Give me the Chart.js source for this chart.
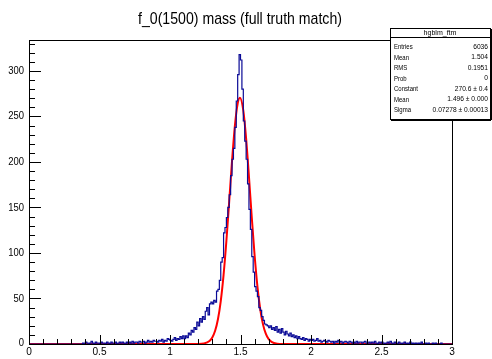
<!DOCTYPE html>
<html>
<head>
<meta charset="utf-8">
<script src="https://cdn.jsdelivr.net/npm/chart.js@4.4.0/dist/chart.umd.min.js"></script>
<style>
  html, body { margin: 0; padding: 0; background: #fff; }
</style>
</head>
<body>
<canvas id="massChart" width="492" height="359"></canvas>
<script>
// histogram hgblm_ftm: 300 bins of 0.01 from 0 to 3
const binWidth = 0.01;
const counts = [
  0, 0, 0, 0, 0, 0, 0, 0, 0, 0,
  0, 0, 0, 0, 0, 0, 0, 0, 0, 0,
  0, 0, 0, 0, 0, 0, 0, 0, 0, 0,
  0, 0, 0, 0, 0, 0, 0, 0, 1, 0,
  2, 1, 0, 1, 3, 1, 0, 2, 1, 1,
  0, 2, 1, 1, 0, 2, 1, 0, 2, 1,
  1, 2, 0, 1, 2, 1, 2, 1, 0, 2,
  1, 2, 1, 3, 1, 2, 2, 1, 3, 2,
  2, 3, 1, 2, 4, 2, 3, 2, 4, 3,
  3, 2, 4, 3, 5, 2, 4, 3, 6, 5,
  4, 3, 5, 7, 4, 6, 5, 8, 6, 9,
  6, 9, 7, 12, 10, 15, 13, 18, 16, 24,
  20, 28, 24, 30, 27, 36, 40, 32, 44, 46,
  44, 48, 46, 58, 60, 70, 90, 95, 122, 128,
  139, 150, 164, 185, 203, 215, 238, 267, 296, 318,
  312, 280, 245, 223, 203, 176, 148, 126, 96, 79,
  63, 58, 52, 40, 37, 30, 26, 22, 21, 20,
  18, 20, 16, 18, 15, 19, 13, 16, 12, 17,
  13, 10, 14, 11, 9, 12, 8, 10, 7, 9,
  6, 8, 6, 5, 7, 4, 6, 5, 3, 5,
  4, 5, 3, 4, 6, 3, 4, 2, 3, 4,
  3, 2, 4, 3, 2, 3, 1, 3, 2, 4,
  2, 3, 1, 2, 3, 2, 1, 3, 2, 1,
  2, 1, 3, 1, 2, 2, 1, 2, 3, 1,
  1, 2, 1, 2, 1, 3, 1, 0, 2, 1,
  2, 1, 0, 1, 2, 1, 3, 1, 0, 2,
  1, 0, 2, 1, 0, 1, 2, 0, 1, 0,
  2, 0, 1, 0, 1, 0, 1, 0, 2, 0,
  0, 1, 0, 1, 0, 0, 1, 0, 1, 0,
  0, 0, 1, 0, 0, 0, 0, 0, 0, 0
];

// gaus fit curve
const fitX = [0, 1.20, 1.24, 1.28, 1.30, 1.32, 1.34, 1.36, 1.38, 1.40, 1.42, 1.44, 1.46, 1.48, 1.496,
  1.52, 1.54, 1.56, 1.58, 1.60, 1.62, 1.64, 1.66, 1.68, 1.70, 1.72, 1.76, 1.80, 3];
const fitY = [0, 0.1, 0.6, 3.3, 7.2, 14.5, 27.2, 47.2, 76.0, 113.4, 156.9, 201.2, 239.5, 264.1, 270.6,
  256.3, 225.4, 183.8, 139.0, 97.5, 63.4, 38.2, 21.3, 11.1, 5.3, 2.4, 0.4, 0.05, 0];

const xMajor = [0, 0.5, 1, 1.5, 2, 2.5, 3];
const xLabels = ["0", "0.5", "1", "1.5", "2", "2.5", "3"];
const yMajor = [0, 50, 100, 150, 200, 250, 300];
const yLabels = ["0", "50", "100", "150", "200", "250", "300"];
const xMinorStep = 0.1;
const yMinorStep = 10;

const title = "f_0(1500) mass (full truth match)";
const statsTitle = "hgblm_ftm";
const statsNames = ["Entries", "Mean", "RMS", "Prob", "Constant", "Mean", "Sigma"];
const statsValues = ["6036", "1.504", "0.1951", "0", "270.6 \u00b1 0.4", "1.496 \u00b1 0.000", "0.07278 \u00b1 0.00013"];

const FONT = '"Liberation Sans", Arial, sans-serif';

const histPoints = counts.map((v, i) => ({ x: Math.round(i * binWidth * 100) / 100, y: v }));
histPoints.push({ x: 3, y: counts[counts.length - 1] });
const fitPoints = fitX.map((x, i) => ({ x, y: fitY[i] }));

// ROOT's Helvetica is narrower than Liberation Sans, so squeeze text horizontally
function narrowText(ctx, text, x, y, squeeze) {
  ctx.save();
  ctx.translate(x, y);
  ctx.scale(squeeze, 1);
  ctx.fillText(text, 0, 0);
  ctx.restore();
}

const rootStyle = {
  id: 'rootStyle',
  afterDatasetsDraw(chart) {
    const ctx = chart.ctx;
    const a = chart.chartArea;
    const xs = chart.scales.x, ys = chart.scales.y;
    ctx.save();
    ctx.strokeStyle = '#000';
    ctx.lineWidth = 1;

    // frame
    ctx.strokeRect(Math.round(a.left) + 0.5, Math.round(a.top) + 0.5,
      Math.round(a.right - a.left), Math.round(a.bottom - a.top));

    // x ticks (inward)
    ctx.beginPath();
    for (let i = 0; i <= 30; i++) {
      const px = Math.round(xs.getPixelForValue(i * xMinorStep)) + 0.5;
      const len = (i % 5 === 0) ? 9 : 5;
      ctx.moveTo(px, a.bottom);
      ctx.lineTo(px, a.bottom - len);
    }
    // y ticks (inward)
    for (let i = 0; i * yMinorStep <= ys.max; i++) {
      const py = Math.round(ys.getPixelForValue(i * yMinorStep)) + 0.5;
      const len = (i % 5 === 0) ? 12 : 6;
      ctx.moveTo(a.left, py);
      ctx.lineTo(a.left + len, py);
    }
    ctx.stroke();

    // tick labels
    ctx.fillStyle = '#000';
    ctx.font = '11px ' + FONT;
    ctx.textAlign = 'center';
    ctx.textBaseline = 'middle';
    xMajor.forEach((v, i) => narrowText(ctx, xLabels[i], xs.getPixelForValue(v), a.bottom + 8, 0.92));
    ctx.textAlign = 'right';
    yMajor.forEach((v, i) => narrowText(ctx, yLabels[i], a.left - 5, ys.getPixelForValue(v) - (v === 0 ? 1 : 0), 0.86));

    // title
    ctx.font = '17px ' + FONT;
    ctx.textAlign = 'center';
    narrowText(ctx, title, 240, 19, 0.83);

    // stats box
    const bx = 390, by = 28, bw = 100, bh = 91;
    ctx.fillStyle = '#fff';
    ctx.fillRect(bx, by, bw, bh);
    ctx.strokeRect(bx + 0.5, by + 0.5, bw, bh);
    ctx.fillStyle = '#000';
    ctx.fillRect(bx + 1, by + bh + 1, bw, 1);
    ctx.fillRect(bx + bw + 1, by + 1, 1, bh);
    ctx.beginPath();
    ctx.moveTo(bx, by + 9.5);
    ctx.lineTo(bx + bw, by + 9.5);
    ctx.stroke();
    ctx.font = '8px ' + FONT;
    narrowText(ctx, statsTitle, bx + bw / 2, by + 5, 0.88);
    statsNames.forEach((name, i) => {
      const ty = by + 19 + i * 10.5;
      ctx.font = '7.5px ' + FONT;
      ctx.textAlign = 'left';
      narrowText(ctx, name, bx + 4, ty, 0.8);
      ctx.font = '7px ' + FONT;
      ctx.textAlign = 'right';
      narrowText(ctx, statsValues[i], bx + bw - 2, ty, 0.95);
    });
    ctx.restore();
  }
};

new Chart(document.getElementById('massChart'), {
  type: 'line',
  data: {
    datasets: [
      {
        label: 'hgblm_ftm',
        data: histPoints,
        stepped: true,
        borderColor: '#0a0a96',
        borderWidth: 1.2,
        pointRadius: 0,
        fill: false,
        clip: false
      },
      {
        label: 'gaus',
        data: fitPoints,
        borderColor: '#ff0000',
        borderWidth: 2,
        pointRadius: 0,
        cubicInterpolationMode: 'monotone',
        fill: false,
        clip: false
      }
    ]
  },
  options: {
    responsive: false,
    devicePixelRatio: 1,
    animation: false,
    layout: { padding: { left: 29, right: 40, top: 40, bottom: 15 } },
    plugins: { legend: { display: false }, tooltip: { enabled: false }, title: { display: false } },
    scales: {
      x: { type: 'linear', min: 0, max: 3, display: false },
      y: { type: 'linear', min: 0, max: 334, display: false }
    }
  },
  plugins: [rootStyle]
});
</script>
</body>
</html>
